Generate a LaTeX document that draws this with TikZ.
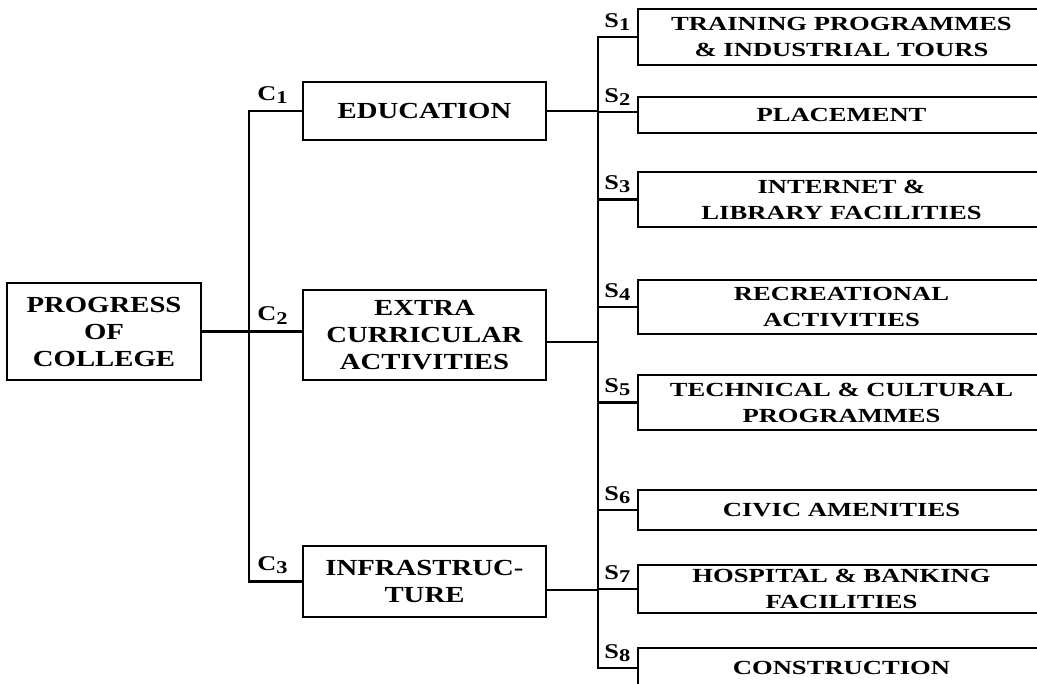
\documentclass[tikz,border=0pt]{standalone}
\usepackage{fontspec}
\setmainfont{Liberation Serif}[FakeStretch=1.33]
\newfontfamily\cfont{Liberation Serif}[FakeStretch=1.25]
\newcommand{\idx}[1]{\raisebox{-0.35ex}{\fontsize{9}{9}\selectfont #1}}
\tikzset{
    box/.style={draw, rectangle, line width=0.6pt, inner sep=0pt, outer sep=0pt, align=center},
    cbox/.style={box, minimum width=121.5pt, font=\cfont\fontsize{11.5}{13.5}\selectfont\bfseries},
    sbox/.style={box, minimum width=203.5pt, font=\fontsize{10}{13}\selectfont\bfseries},
    lbl/.style={inner sep=1pt, anchor=south west, font=\cfont\fontsize{10.5}{11}\selectfont\bfseries},
    link/.style={line width=1.1pt},
}

\begin{document}
\begin{tikzpicture}[x=0.5pt, y=-0.5pt]
        \useasboundingbox (0,0) rectangle (1037,684);

        \node[cbox, minimum width=97pt, minimum height=48.5pt] (P) at (104,331.5) {PROGRESS\\OF\\COLLEGE};

        \node[cbox, minimum height=29pt] (C1) at (424.5,111) {EDUCATION};
        \node[cbox, minimum height=45pt] (C2) at (424.5,335) {EXTRA\\CURRICULAR\\ACTIVITIES};
        \node[cbox, minimum height=35.5pt] (C3) at (424.5,581.5) {INFRASTRUC-\\TURE};

        \node[sbox, minimum height=28pt] (S1) at (841.5,37) {TRAINING PROGRAMMES\\\& INDUSTRIAL TOURS};
        \node[sbox, minimum height=18pt] (S2) at (841.5,115) {PLACEMENT};
        \node[sbox, minimum height=27.5pt] (S3) at (841.5,199.5) {INTERNET \&\\LIBRARY FACILITIES};
        \node[sbox, minimum height=27pt] (S4) at (841.5,307) {RECREATIONAL\\ACTIVITIES};
        \node[sbox, minimum height=27.5pt] (S5) at (841.5,402.5) {TECHNICAL \& CULTURAL\\PROGRAMMES};
        \node[sbox, minimum height=20pt] (S6) at (841.5,510) {CIVIC AMENITIES};
        \node[sbox, minimum height=24pt] (S7) at (841.5,589) {HOSPITAL \& BANKING\\FACILITIES};
        \node[sbox, minimum height=20pt] (S8) at (841.5,668) {CONSTRUCTION};

        \coordinate (Lx) at (249,0);
        \coordinate (Rx) at (598,0);
        % connector ends that sit off the box centres
        \coordinate (C2e) at ([yshift=-3.5pt]C2.east);
        \coordinate (C3e) at ([yshift=-4.25pt]C3.east);
        \coordinate (S2w) at ([yshift=1.5pt]S2.west);

        \draw[link] (P.east) -- (P.east -| C2.west);
        \draw[link] (C1.west) -- (C1.west -| Lx) |- (C3.west);
        \draw[link] (C1.east) -- (C1.east -| Rx);
        \draw[link] (C2e) -- (C2e -| Rx);
        \draw[link] (C3e) -- (C3e -| Rx);
        \draw[link] (S1.west) -- (S1.west -| Rx) |- (S8.west);
        \draw[link] (S2w) -- (S2w -| Rx);
        \foreach \i in {3,...,7}
            \draw[link] (S\i.west) -- (S\i.west -| Rx);

        \node[lbl, xshift=3pt, yshift=2.5pt] (LC1) at (C1.west -| Lx) {C\idx{1}};
        \node[lbl, xshift=3pt, yshift=2.5pt] (LC2) at (P.east -| Lx) {C\idx{2}};
        \node[lbl, xshift=3pt, yshift=2.5pt] (LC3) at (C3.west -| Lx) {C\idx{3}};
        \node[lbl, xshift=2pt, yshift=2pt] (LS1) at (S1.west -| Rx) {S\idx{1}};
        \node[lbl, xshift=2pt, yshift=2pt] (LS2) at (S2w -| Rx) {S\idx{2}};
        \foreach \i in {3,...,8}
            \node[lbl, xshift=2pt, yshift=2pt] (LS\i) at (S\i.west -| Rx) {S\idx{\i}};
    \end{tikzpicture}
\end{document}
